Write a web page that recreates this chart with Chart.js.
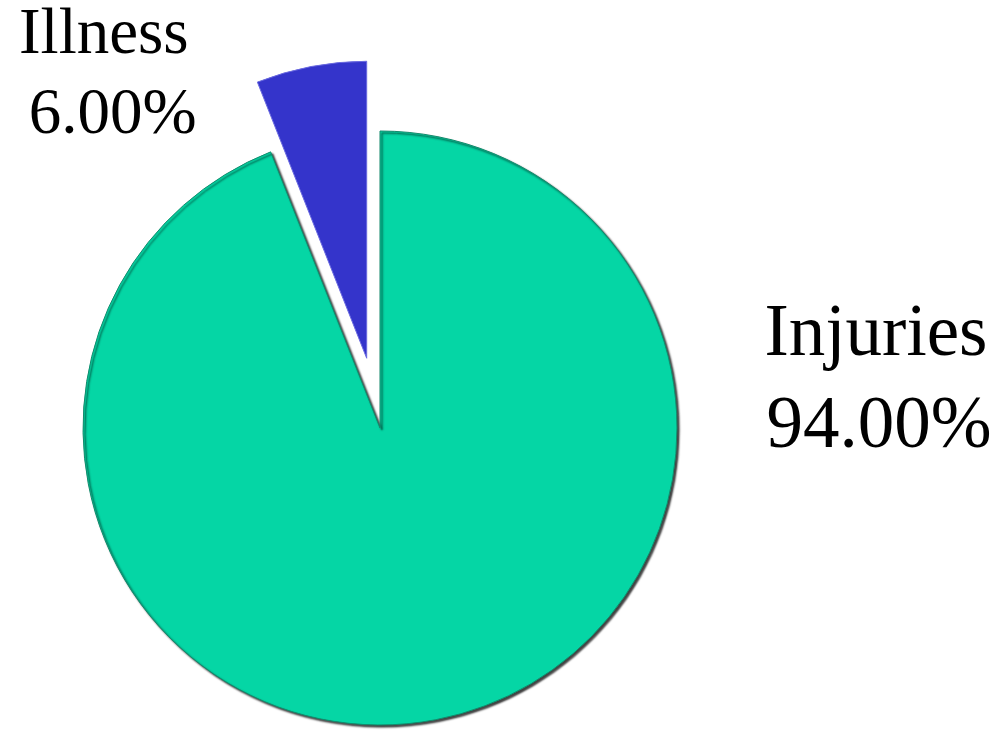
<!DOCTYPE html>
<html>
<head>
<meta charset="utf-8">
<script src="https://cdn.jsdelivr.net/npm/chart.js@4/dist/chart.umd.min.js"></script>
<style>
  html, body { margin: 0; padding: 0; background: #fff; }
  #wrap { width: 1002px; height: 730px; position: relative; }
</style>
</head>
<body>
<div id="wrap"><canvas id="pie-chart"></canvas></div>
<script>
const categories = ['Injuries', 'Illness'];
const shares = [94.0, 6.0];
const sliceColors = ['#05d6a5', '#3434cb'];
const edgeColors = ['#138a6c', '#6a6ae0'];
// how far each slice is pulled out of the pie, in pixels
const explode = [0, 71];

// label placement relative to pie centre, as fractions of the radius
const labelSpots = [
    { dx: [1.67, 1.68], lines: [-0.246, 0.064], size: 73 },
    { dx: [-0.93, -0.90], lines: [-1.262, -0.993], size: 65 }
];

// draws each arc itself so the big slice gets a drop shadow and the small one is pulled out
const slicePlugin = {
    id: 'sliceDraw',
    beforeDatasetDraw(chart, args) {
        const ctx = chart.ctx;
        args.meta.data.forEach((arc, i) => {
            const mid = (arc.startAngle + arc.endAngle) / 2;
            ctx.save();
            ctx.translate(Math.cos(mid) * explode[i], Math.sin(mid) * explode[i]);
            if (i === 0) {
                ctx.shadowColor = 'rgba(0,0,0,0.75)';
                ctx.shadowOffsetX = 2;
                ctx.shadowOffsetY = 2;
                ctx.shadowBlur = 2;
            }
            arc.draw(ctx, chart.chartArea);
            ctx.restore();
        });
        return false;
    }
};

const labelPlugin = {
    id: 'sliceLabels',
    afterDatasetsDraw(chart) {
        const ctx = chart.ctx;
        const meta = chart.getDatasetMeta(0);
        meta.data.forEach((arc, i) => {
            const spot = labelSpots[i];
            const r = arc.outerRadius;
            const texts = [categories[i], shares[i].toFixed(2) + '%'];
            ctx.save();
            ctx.fillStyle = '#000';
            ctx.font = spot.size + 'px "Liberation Serif", "Times New Roman", serif';
            ctx.textAlign = 'center';
            ctx.textBaseline = 'alphabetic';
            texts.forEach((t, j) => ctx.fillText(t, arc.x + spot.dx[j] * r, arc.y + spot.lines[j] * r));
            ctx.restore();
        });
    }
};

new Chart(document.getElementById('pie-chart').getContext('2d'), {
    type: 'pie',
    data: {
        labels: categories,
        datasets: [{
            data: shares,
            backgroundColor: sliceColors,
            borderColor: edgeColors,
            borderWidth: 1
        }]
    },
    options: {
        responsive: true,
        maintainAspectRatio: false,
        animation: false,
        radius: 297,
        layout: { padding: { left: 0, right: 242, top: 126, bottom: 0 } },
        plugins: {
            legend: { display: false },
            tooltip: { enabled: false }
        }
    },
    plugins: [slicePlugin, labelPlugin]
});
</script>
</body>
</html>
